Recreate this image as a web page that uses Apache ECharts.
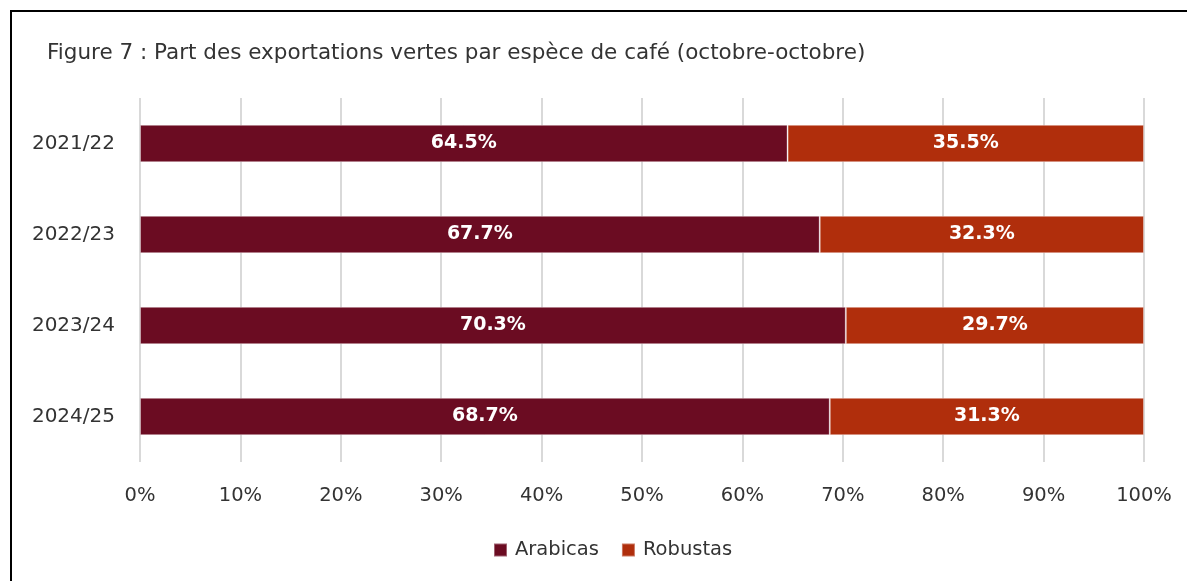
<!DOCTYPE html>
<html>
<head>
<meta charset="utf-8">
<script src="https://cdn.jsdelivr.net/npm/echarts@6/dist/echarts.min.js"></script>
<style>
html,body{margin:0;padding:0;background:#fff;overflow:hidden;}
#frame{position:absolute;left:10px;top:10px;width:1200px;height:600px;border:2px solid #000;box-sizing:border-box;}
#chart{position:absolute;left:0;top:0;width:1187px;height:581px;}
</style>
</head>
<body>
<div id="frame"></div>
<div id="chart"></div>
<script>
const categories = ['2021/22', '2022/23', '2023/24', '2024/25'];
const arabicas = [64.5, 67.7, 70.3, 68.7];
const robustas = [35.5, 32.3, 29.7, 31.3];
const seriesNames = ['Arabicas', 'Robustas'];
const titleText = 'Figure 7 : Part des exportations vertes par espèce de café (octobre-octobre)';

const FONT = '"DejaVu Sans", sans-serif';
const chart = echarts.init(document.getElementById('chart'), null, {renderer: 'canvas'});
const labelCfg = {
  show: true,
  position: 'inside',
  color: '#fff',
  fontWeight: 'bold',
  fontSize: 19,
  fontFamily: FONT,
  formatter: p => p.value.toFixed(1) + '%'
};
chart.setOption({
  animation: false,
  backgroundColor: 'transparent',
  title: {
    text: titleText,
    left: 42,
    top: 37,
    textStyle: {fontFamily: FONT, fontSize: 21.5, fontWeight: 'normal', color: '#333'}
  },
  legend: {
    data: seriesNames,
    bottom: 16,
    left: 488,
    itemWidth: 13,
    itemHeight: 13,
    itemGap: 22,
    icon: 'rect',
    textStyle: {fontFamily: FONT, fontSize: 19.5, color: '#333', padding: [0, 0, 0, 3]}
  },
  grid: {left: 140, right: 43, top: 98, bottom: 119, containLabel: false},
  xAxis: {
    type: 'value',
    min: 0, max: 100, interval: 10,
    axisLine: {show: false},
    axisTick: {show: false},
    axisLabel: {formatter: '{value}%', fontFamily: FONT, fontSize: 19.5, color: '#333', margin: 24},
    splitLine: {show: true, lineStyle: {color: '#d9d9d9', width: 2}}
  },
  yAxis: {
    type: 'category',
    data: categories,
    inverse: true,
    axisLine: {show: false},
    axisTick: {show: false},
    axisLabel: {fontFamily: FONT, fontSize: 20, color: '#333', margin: 25}
  },
  series: [
    {name: seriesNames[0], type: 'bar', stack: 'total', data: arabicas, barWidth: '41%',
     itemStyle: {color: '#6B0C22', borderColor: 'rgba(255,255,255,0.35)', borderWidth: 1}, label: labelCfg},
    {name: seriesNames[1], type: 'bar', stack: 'total', data: robustas, barWidth: '41%',
     itemStyle: {color: '#B02E0C', borderColor: 'rgba(255,255,255,0.35)', borderWidth: 1}, label: labelCfg}
  ]
});
</script>
</body>
</html>
